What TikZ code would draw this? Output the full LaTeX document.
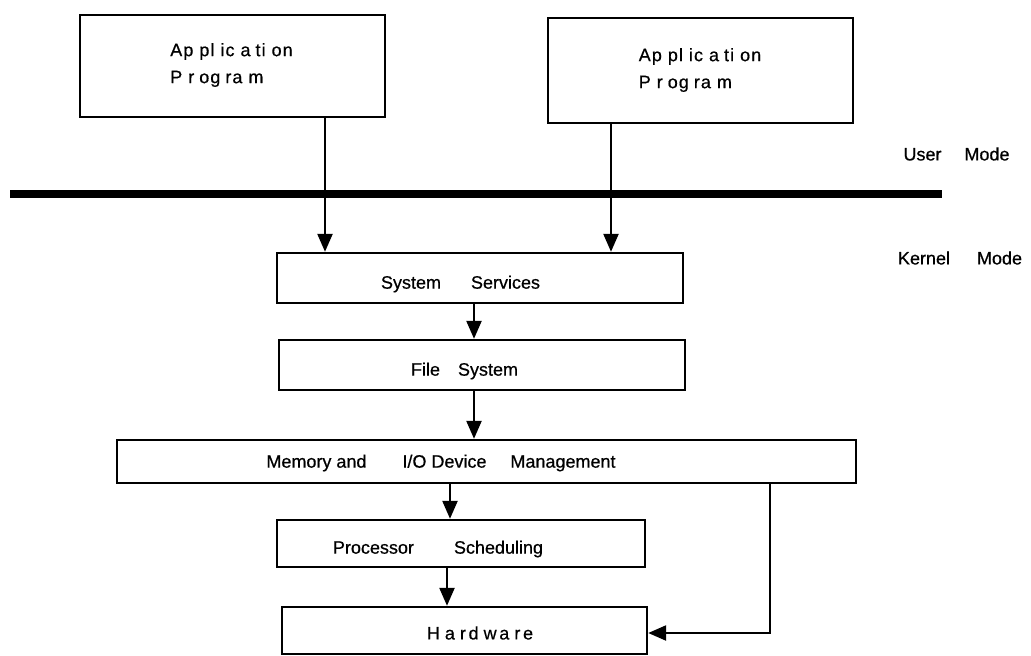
\documentclass[tikz,border=0pt]{standalone}
\usepackage{fontspec}
\setmainfont[FakeBold=0.6]{Liberation Sans}
\newfontfamily\spacedfont[LetterSpace=6,FakeBold=0.6]{Liberation Sans}
\newfontfamily\widefont[LetterSpace=15,FakeBold=0.6]{Liberation Sans}
\usetikzlibrary{arrows.meta}

\begin{document}
\begin{tikzpicture}[x=1pt,y=-1pt,
  blk/.style={draw, line width=2.4pt, inner sep=0pt},
  lbl/.style={font=\fontsize{18}{26}\selectfont, inner sep=0pt},
  arr/.style={line width=2.4pt, -{Triangle[width=15pt,length=18pt]}},
]
\useasboundingbox (0,0) rectangle (1031,656);

% boxes
\node[blk, minimum width=305pt, minimum height=102pt] (app1) at (232.5,66) {};
\node[blk, minimum width=305pt, minimum height=105pt] (app2) at (700.5,70.5) {};
\node[blk, minimum width=406pt, minimum height=50pt] (ss) at (480,278) {};
\node[blk, minimum width=406pt, minimum height=50pt] (fs) at (482,365) {};
\node[blk, minimum width=739pt, minimum height=43pt] (mem) at (486.5,461.5) {};
\node[blk, minimum width=368pt, minimum height=47pt] (ps) at (461,543.5) {};
\node[blk, minimum width=365pt, minimum height=47pt] (hw) at (464.5,630.5) {};

% box texts
\node[lbl, align=left, font=\spacedfont\fontsize{18}{27}\selectfont] (app1t) at (231.5,65)
  {Ap\kern6pt pl\kern6pt ic\kern6pt a\kern5pt ti\kern6pt on\\P\kern6pt r\kern5pt og\kern5pt ra\kern6pt m};
\node[lbl, align=left, font=\spacedfont\fontsize{18}{27}\selectfont] (app2t) at (700,70)
  {Ap\kern6pt pl\kern6pt ic\kern6pt a\kern5pt ti\kern6pt on\\P\kern6pt r\kern5pt og\kern5pt ra\kern6pt m};
\node[lbl] (sst) at (460.5,284) {System\hspace{30pt}Services};
\node[lbl] (fst) at (464.5,371) {File\hspace{18pt}System};
\node[lbl] (memt) at (441,463) {Memory and\hspace{36pt}I/O Device\hspace{24pt}Management};
\node[lbl] (pst) at (438,549) {Processor\hspace{40pt}Scheduling};
\node[lbl, font=\widefont\fontsize{18}{26}\selectfont] (hwt) at (480,633)
  {H\kern5pt a\kern5pt rd\kern5pt wa\kern5pt re};

% mode labels and the boundary between them
\node[lbl] (user) at (956.5,154) {User\hspace{23pt}Mode};
\node[lbl] (kernel) at (960,258) {Kernel\hspace{27pt}Mode};
\draw[line width=8pt] (10,194) -- (942,194);

% connectors
\coordinate (c1) at (325,0);
\coordinate (c2) at (611,0);
\coordinate (c3) at (474,0);
\coordinate (c4) at (450,0);
\coordinate (c5) at (447,0);
\coordinate (turn) at (770,633);
\draw[arr] (app1.south -| c1) -- (ss.north -| c1);
\draw[arr] (app2.south -| c2) -- (ss.north -| c2);
\draw[arr] (ss.south -| c3) -- (fs.north -| c3);
\draw[arr] (fs.south -| c3) -- (mem.north -| c3);
\draw[arr] (mem.south -| c4) -- (ps.north -| c4);
\draw[arr] (ps.south -| c5) -- (hw.north -| c5);
\draw[arr] (mem.south -| turn) -- (turn) -- (turn -| hw.east);
\end{tikzpicture}
\end{document}
